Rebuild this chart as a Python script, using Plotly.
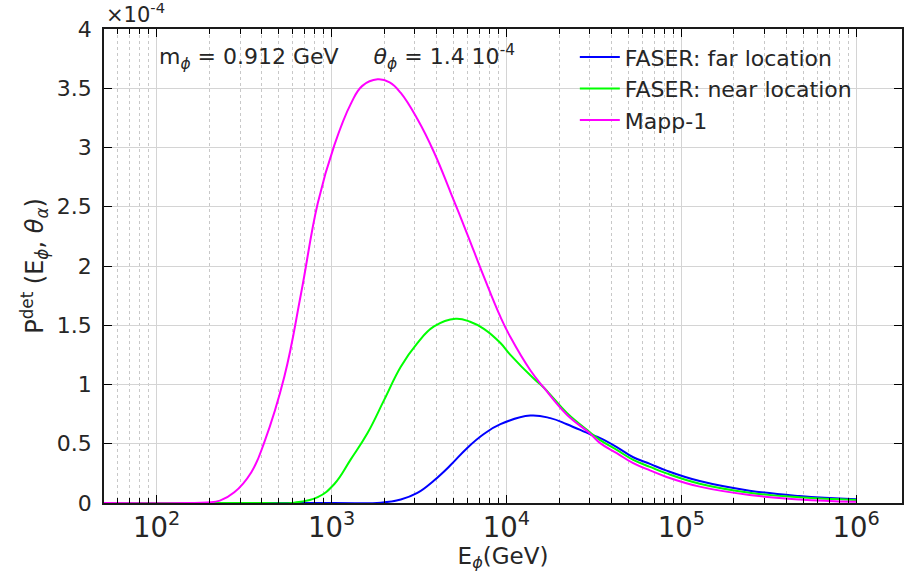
import plotly.graph_objects as go

# Energies (GeV) and detection probabilities (units of 1e-4)
E_far = [50, 1000, 1915, 2489, 3097, 3855, 4797, 5970, 7430, 9247, 13700, 17820,
         22180, 30130, 34360, 42760, 53090, 66220, 82410, 127400, 245500, 473200, 1000000]
P_far = [0, 0, 0.003, 0.03, 0.085, 0.19, 0.32, 0.465, 0.582, 0.665, 0.738, 0.716,
         0.665, 0.58, 0.547, 0.472, 0.386, 0.33, 0.273, 0.185, 0.104, 0.059, 0.031]

E_near = [50, 400, 611, 834, 1038, 1291, 1607, 2000, 2489, 3097, 3855, 5120, 6200, 7430,
          9247, 10540, 14320, 16330, 17820, 22180, 30130, 34360, 42760, 53090, 66220,
          82410, 127400, 245500, 473200, 1000000]
P_near = [0, 0, 0.003, 0.05, 0.16, 0.37, 0.59, 0.87, 1.15, 1.35, 1.49, 1.555, 1.53, 1.47,
          1.35, 1.25, 1.05, 0.975, 0.915, 0.76, 0.595, 0.53, 0.448, 0.364, 0.305,
          0.25, 0.163, 0.087, 0.048, 0.025]

E_mapp = [50, 150, 195, 230, 278, 348, 412, 538, 670, 834, 1038, 1291, 1500, 1832, 2150,
          2489, 3097, 3855, 4797, 5970, 7430, 9247, 10540, 13700, 16330, 22180, 30130,
          34360, 42760, 53090, 66220, 82410, 127400, 245500, 473200, 1000000]
P_mapp = [0, 0, 0.005, 0.02, 0.09, 0.26, 0.51, 1.07, 1.77, 2.53, 3.02, 3.37, 3.52, 3.575,
          3.55, 3.46, 3.24, 2.96, 2.62, 2.27, 1.91, 1.57, 1.40, 1.12, 0.975, 0.745, 0.585,
          0.505, 0.42, 0.336, 0.275, 0.22, 0.138, 0.068, 0.03, 0.01]

series = [
    ("FASER: far location", E_far, P_far, "#0000ff"),
    ("FASER: near location", E_near, P_near, "#00ff00"),
    ("Mapp-1", E_mapp, P_mapp, "#ff00ff"),
]

FONT = "DejaVu Sans"
TXT = "#262626"
NB = "\u00a0"

fig = go.Figure()
for name, xs, ys, col in series:
    fig.add_trace(go.Scatter(
        x=xs, y=ys, name=name, mode="lines",
        line=dict(color=col, width=2, shape="spline", smoothing=1.2),
    ))

fig.update_layout(
    width=904, height=575,
    margin=dict(l=104, r=0, t=29, b=72),
    paper_bgcolor="white", plot_bgcolor="white",
    font=dict(family=FONT, size=22, color=TXT),
    showlegend=True,
    legend=dict(
        x=0.59, y=0.985, xanchor="left", yanchor="top",
        bgcolor="rgba(0,0,0,0)", borderwidth=0,
        font=dict(family=FONT, size=22, color=TXT),
        itemwidth=40,
    ),
)

fig.update_xaxes(
    type="log", range=[1.699, 6.262],
    dtick=1, exponentformat="power", showexponent="all",
    ticks="inside", ticklen=8, tickcolor="#000000", tickwidth=1.2,
    showline=True, linecolor="#1a1a1a", linewidth=1.5, mirror="allticks",
    showgrid=True, gridcolor="#d4d4d4", gridwidth=1,
    minor=dict(ticks="inside", ticklen=5, tickcolor="#000000", tickwidth=1, dtick="D1",
               showgrid=True, gridcolor="#c8c8c8", griddash="dot", gridwidth=1),
    tickfont=dict(family=FONT, size=22, color=TXT),
    title=dict(text="E<sub><i>ϕ</i></sub>(GeV)", font=dict(family=FONT, size=23, color=TXT),
               standoff=4),
    zeroline=False,
)
fig.update_yaxes(
    range=[0, 4], dtick=0.5,
    ticks="inside", ticklen=8, tickcolor="#000000", tickwidth=1.2,
    showline=True, linecolor="#1a1a1a", linewidth=1.5, mirror="allticks",
    showgrid=True, gridcolor="#d4d4d4", gridwidth=1,
    tickfont=dict(family=FONT, size=22, color=TXT),
    ticklabelstandoff=6,
    title=dict(text="P<sup>det</sup> (E<sub><i>ϕ</i></sub>, <i>θ</i><sub><i>α</i></sub>)",
               font=dict(family=FONT, size=24, color=TXT), standoff=6),
    zeroline=False,
)

fig.add_annotation(
    text="×10<sup>-4</sup>", xref="paper", yref="paper", x=0.0, y=1.0,
    xanchor="left", yanchor="bottom", showarrow=False,
    font=dict(family=FONT, size=21, color=TXT),
)
fig.add_annotation(
    text=("m<sub><i>ϕ</i></sub> = 0.912 GeV" + NB * 5 +
          "<i>θ</i><sub><i>ϕ</i></sub> = 1.4 10<sup>-4</sup>"),
    xref="paper", yref="paper", x=0.066, y=0.94,
    xanchor="left", yanchor="middle", showarrow=False,
    font=dict(family=FONT, size=22, color=TXT),
)

fig.write_html("out.html")
